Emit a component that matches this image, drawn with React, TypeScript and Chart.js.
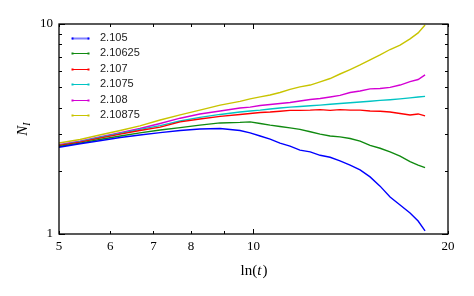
import React, { useEffect, useRef } from "react";
import { Chart, registerables } from "chart.js";

Chart.register(...registerables);

// ln(t) sample positions
const lnT = [5.0, 5.39, 5.78, 6.22, 6.67, 7.17, 7.7, 8.26, 8.88, 9.53, 9.88, 10.24, 10.61, 10.99, 11.39, 11.8, 12.24, 12.68, 13.14, 13.61, 14.11, 14.62, 15.15, 15.7, 16.27, 16.86, 17.47, 17.98, 18.43];

const seriesLabels = ["2.105", "2.10625", "2.107", "2.1075", "2.108", "2.10875"];

const n2105 = [2.59, 2.69, 2.78, 2.88, 2.96, 3.04, 3.11, 3.16, 3.18, 3.11, 3.03, 2.93, 2.83, 2.71, 2.62, 2.51, 2.46, 2.37, 2.32, 2.23, 2.13, 2.02, 1.87, 1.69, 1.5, 1.374, 1.26, 1.153, 1.034];
const n210625 = [2.61, 2.71, 2.82, 2.93, 3.03, 3.13, 3.21, 3.3, 3.38, 3.4, 3.42, 3.36, 3.3, 3.25, 3.2, 3.15, 3.07, 2.99, 2.93, 2.9, 2.85, 2.77, 2.64, 2.56, 2.46, 2.35, 2.21, 2.13, 2.07];
const n2107 = [2.64, 2.74, 2.86, 2.99, 3.11, 3.23, 3.42, 3.53, 3.63, 3.71, 3.75, 3.79, 3.81, 3.84, 3.88, 3.88, 3.89, 3.91, 3.88, 3.91, 3.89, 3.89, 3.85, 3.84, 3.81, 3.75, 3.69, 3.73, 3.65];
const n21075 = [2.65, 2.75, 2.88, 3.01, 3.15, 3.28, 3.45, 3.59, 3.71, 3.81, 3.85, 3.89, 3.94, 3.98, 4.02, 4.05, 4.08, 4.11, 4.15, 4.18, 4.22, 4.25, 4.29, 4.33, 4.36, 4.4, 4.45, 4.49, 4.52];
const n2108 = [2.66, 2.77, 2.9, 3.04, 3.18, 3.36, 3.56, 3.73, 3.85, 3.98, 4.02, 4.09, 4.14, 4.18, 4.23, 4.3, 4.37, 4.42, 4.49, 4.57, 4.72, 4.8, 4.91, 4.93, 4.99, 5.12, 5.32, 5.44, 5.72];
const n210875 = [2.71, 2.82, 2.96, 3.11, 3.27, 3.49, 3.69, 3.89, 4.11, 4.28, 4.4, 4.5, 4.59, 4.72, 4.88, 5.02, 5.12, 5.3, 5.5, 5.78, 6.07, 6.38, 6.74, 7.12, 7.56, 7.94, 8.49, 9.07, 9.89];

const seriesValues = [n2105, n210625, n2107, n21075, n2108, n210875];

const xTickLabels = ["5", "6", "7", "8", "10", "20"];
const xMinorTicks = [9];
const yTickLabels = ["1", "10"];
const yMinorTicks = [2, 3, 4, 5, 6, 7, 8, 9];

const colors = ["#0000ff", "#108a10", "#ff0000", "#00c4c4", "#d400d4", "#c8c400"];

const overlay = {
  id: "overlay",
  afterDraw(chart: any) {
    const ctx = chart.ctx as CanvasRenderingContext2D;
    const area = chart.chartArea;
    const xs = chart.scales.x;
    const ys = chart.scales.y;
    ctx.save();
    // frame
    ctx.strokeStyle = "#000";
    ctx.lineWidth = 1.3;
    ctx.strokeRect(area.left, area.top, area.right - area.left, area.bottom - area.top);

    ctx.lineWidth = 1;
    const xTick = (v: number, len: number) => {
      const px = Math.round(xs.getPixelForValue(v)) + 0.5;
      ctx.beginPath();
      ctx.moveTo(px, area.bottom);
      ctx.lineTo(px, area.bottom - len);
      ctx.moveTo(px, area.top);
      ctx.lineTo(px, area.top + len);
      ctx.stroke();
    };
    xTickLabels.forEach((t) => xTick(Number(t), Number(t) === 10 ? 5 : 3));
    xMinorTicks.forEach((v) => xTick(v, 3));
    const yTick = (v: number, len: number) => {
      const py = Math.round(ys.getPixelForValue(v)) + 0.5;
      ctx.beginPath();
      ctx.moveTo(area.left, py);
      ctx.lineTo(area.left + len, py);
      ctx.moveTo(area.right, py);
      ctx.lineTo(area.right - len, py);
      ctx.stroke();
    };
    yTickLabels.forEach((t) => yTick(Number(t), 6));
    yMinorTicks.forEach((v) => yTick(v, 3));

    // tick labels
    ctx.fillStyle = "#000";
    ctx.font = "13px 'Liberation Serif', serif";
    ctx.textAlign = "center";
    ctx.textBaseline = "middle";
    xTickLabels.forEach((t) => {
      const px = xs.getPixelForValue(Number(t));
      ctx.fillText(t, px, area.bottom + 13);
    });
    ctx.textAlign = "right";
    yTickLabels.forEach((t) => {
      const py = ys.getPixelForValue(Number(t));
      ctx.fillText(t, area.left - 6, py);
    });

    // x title ln(t)
    ctx.textBaseline = "alphabetic";
    ctx.textAlign = "left";
    const cx = (area.left + area.right) / 2;
    const f1 = "15px 'Liberation Serif', serif";
    const f2 = "italic 15px 'Liberation Serif', serif";
    ctx.font = f1;
    const wA = ctx.measureText("ln(").width;
    const wC = ctx.measureText(")").width;
    ctx.font = f2;
    const wB = ctx.measureText("t").width;
    const x0 = cx - (wA + wB + wC) / 2;
    const by = area.bottom + 41;
    ctx.font = f1;
    ctx.fillText("ln(", x0, by);
    ctx.font = f2;
    ctx.fillText("t", x0 + wA, by);
    ctx.font = f1;
    ctx.fillText(")", x0 + wA + wB + 1, by);

    // y title N_I
    ctx.save();
    ctx.translate(27, (area.top + area.bottom) / 2);
    ctx.rotate(-Math.PI / 2);
    ctx.font = "italic 15px 'Liberation Serif', serif";
    const wN = ctx.measureText("N").width;
    ctx.font = "italic 10px 'Liberation Serif', serif";
    const wI = ctx.measureText("I").width;
    const sx = -(wN + wI) / 2;
    ctx.font = "italic 15px 'Liberation Serif', serif";
    ctx.fillText("N", sx, 0);
    ctx.font = "italic 10px 'Liberation Serif', serif";
    ctx.fillText("I", sx + wN, 3);
    ctx.restore();

    // legend
    ctx.font = "11px 'Liberation Sans', Arial, sans-serif";
    ctx.textBaseline = "middle";
    ctx.textAlign = "left";
    seriesLabels.forEach((lab, i) => {
      const ly = area.top + 13.5 + i * 15.5;
      const lx0 = area.left + 13;
      const lx1 = area.left + 30;
      ctx.strokeStyle = colors[i];
      ctx.globalAlpha = i === 0 ? 0.5 : 1;
      ctx.lineWidth = i === 0 ? 2 : 1;
      ctx.beginPath();
      ctx.moveTo(lx0, Math.round(ly) + 0.5);
      ctx.lineTo(lx1, Math.round(ly) + 0.5);
      ctx.stroke();
      ctx.globalAlpha = 1;
      ctx.fillStyle = colors[i];
      ctx.fillRect(lx0 - 0.5, Math.round(ly) - 0.5, 2, 2);
      ctx.fillRect(lx1 - 1.5, Math.round(ly) - 0.5, 2, 2);
      ctx.fillStyle = "#222";
      ctx.fillText(lab, area.left + 41, ly);
    });
    ctx.restore();
  },
};

export default function App() {
  const ref = useRef<HTMLCanvasElement | null>(null);
  useEffect(() => {
    if (!ref.current) return;
    const datasets = seriesValues.map((vals, i) => ({
      label: seriesLabels[i],
      data: vals.map((v, j) => ({ x: lnT[j], y: v })),
      borderColor: colors[i],
      backgroundColor: colors[i],
      borderWidth: 1.4,
      pointRadius: 0,
      tension: 0,
      fill: false,
    }));
    const chart = new Chart(ref.current, {
      type: "line",
      data: { datasets },
      options: {
        animation: false,
        responsive: false,
        maintainAspectRatio: false,
        events: [],
        layout: { padding: { left: 59, top: 24, right: 26, bottom: 62 } },
        plugins: { legend: { display: false }, tooltip: { enabled: false } },
        scales: {
          x: { type: "logarithmic", min: 5, max: 20, display: false },
          y: { type: "logarithmic", min: 1, max: 10, display: false },
        },
      },
      plugins: [overlay],
    } as any);
    return () => chart.destroy();
  }, []);
  return (
    <div style={{ position: "fixed", left: 0, top: 0, width: 474, height: 296, background: "#fff" }}>
      <canvas ref={ref} width={474} height={296} style={{ width: 474, height: 296 }} />
    </div>
  );
}
